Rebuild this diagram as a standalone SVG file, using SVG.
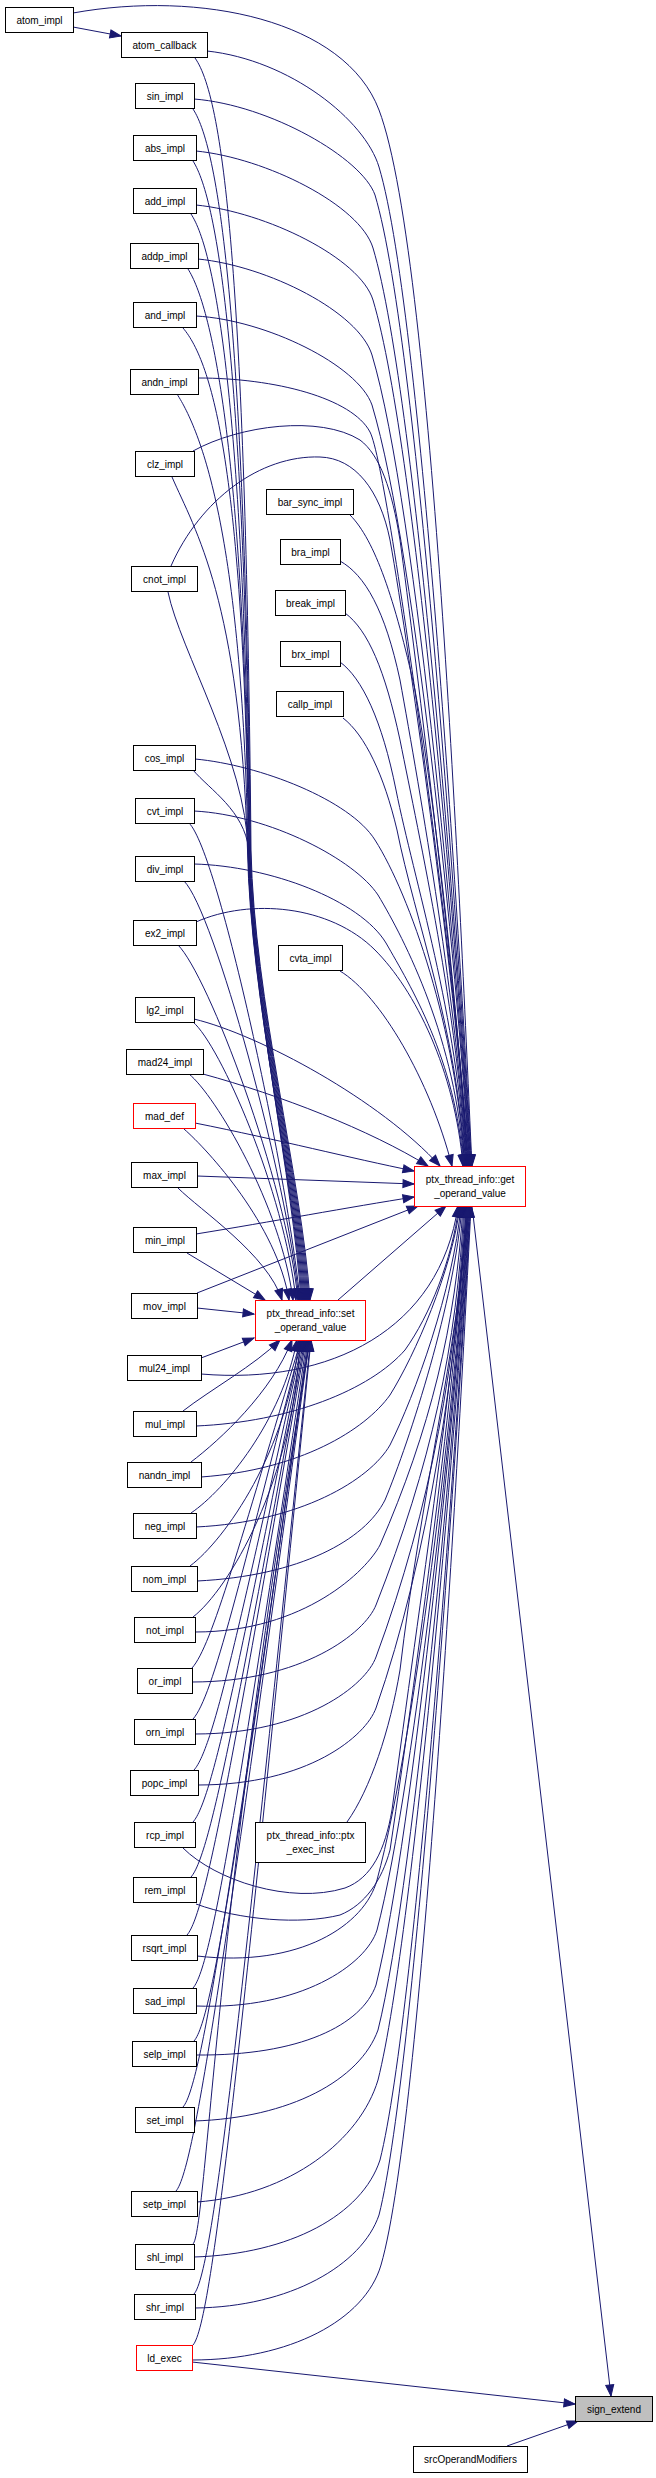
<svg xmlns="http://www.w3.org/2000/svg" width="656" height="2478" viewBox="0 0 656 2478">
<defs>
<marker id="a" markerUnits="userSpaceOnUse" markerWidth="11" markerHeight="8" refX="11" refY="4" orient="auto" overflow="visible">
<path d="M0,0 L11,4 L0,8 z" fill="#191970" stroke="#191970" stroke-width="1"/>
</marker>
<style>
.n rect{fill:#fff;stroke:#000;stroke-width:1}
.r rect{stroke:#ff0000}
.g rect{fill:#bfbfbf}
text{font-family:"Liberation Sans",Arial,sans-serif;font-size:10px;text-anchor:middle;fill:#000}
.e path{fill:none;stroke:#191970;stroke-width:1;marker-end:url(#a)}
</style>
</defs>
<rect width="656" height="2478" fill="#fff"/>
<g id="edges" class="e">
<path d="M73,27 L121,36"/>
<path d="M73,13 C200,-10 345,20 379,110 C436,260 464.5,1016 472,1166"/>
<path d="M207,51 C290,60 365,120 379,167 C424,317 464,1016 471.5,1166"/>
<path d="M194,99 C270,105 362,158 375,195 C420,345 463.5,1016 471,1166"/>
<path d="M196,151 C266,158 360,205 373,248 C418,398 463,1016 470.5,1166"/>
<path d="M196,205 C266,212 360,258 373,300 C418,450 462.5,1016 470,1166"/>
<path d="M198,259 C268,266 359,312 372,355 C417,505 462,1016 469.5,1166"/>
<path d="M196,316 C266,320 358,365 372,405 C417,555 461.5,1016 469,1166"/>
<path d="M198,378 C275,378 352,398 370,432 C390,470 461,1016 468.5,1166"/>
<path d="M193,451 C240,425 320,415 360,440 C380,455 392,490 400,540 C415,650 460,1016 468,1166"/>
<path d="M171,566 C200,500 260,455 320,457 C355,458 380,490 390,540 C410,650 460,1016 467.5,1166"/>
<path d="M350,515 C375,540 395,600 415,690 C435,800 459,1016 467,1166"/>
<path d="M340,561 C365,575 385,610 400,680 C420,790 459,1016 466.5,1166"/>
<path d="M345,613 C368,630 385,670 400,740 C420,840 458.5,1016 466,1166"/>
<path d="M340,662 C362,678 382,720 396,790 C414,880 458,1016 465.5,1166"/>
<path d="M343,718 C365,735 384,775 397,830 C415,920 457.5,1030 465,1166"/>
<path d="M195,759 C260,765 350,800 375,840 C410,895 457,1030 464.5,1166"/>
<path d="M194,811 C270,815 355,860 378,895 C405,940 456.5,1040 464,1166"/>
<path d="M194,864 C270,866 360,900 386,943 C410,985 456,1060 463.5,1166"/>
<path d="M196,922 C250,898 330,905 375,950 C415,990 455,1070 463,1166"/>
<path d="M340,971 C380,995 430,1080 452,1166"/>
<path d="M194,1019 C260,1035 380,1100 440,1166"/>
<path d="M203,1074 C280,1095 370,1130 428,1166"/>
<path d="M195,1123 C280,1140 350,1158 414,1171"/>
<path d="M197,1176 L414,1184"/>
<path d="M196,1234 C270,1222 350,1207 414,1197"/>
<path d="M197,1293 L418,1206"/>
<path d="M195,58 C225,100 246,295 251,850 C254,1000 302,1180 310,1300"/>
<path d="M193,109 C220,150 245,330 250.5,850 C253.5,1000 301,1180 309,1300"/>
<path d="M193,161 C218,200 245,370 250,850 C253,1000 300,1180 308,1300"/>
<path d="M191,214 C215,250 244,405 249.5,850 C252.5,1000 299,1180 307,1300"/>
<path d="M188,269 C211,305 244,445 249,850 C252,1000 298,1180 306,1300"/>
<path d="M183,328 C212,362 244,470 248.5,850 C251.5,1000 297,1180 305,1300"/>
<path d="M177,394 C200,430 242,530 248,850 C251,1000 296,1180 304,1300"/>
<path d="M172,477 C195,530 240,600 247.5,850 C250.5,1000 295,1180 303,1300"/>
<path d="M168,592 C180,650 246,760 248,850 C251,1000 294,1180 302,1300"/>
<path d="M193,770 C210,790 244,810 249,850 C252,1000 293,1180 301,1300"/>
<path d="M189,823 C219,853 288,1178 300,1300"/>
<path d="M184,881 C214,911 287,1178 299,1300"/>
<path d="M178,945 C208,975 286,1180 298,1300"/>
<path d="M193,1022 C220,1045 284,1190 296,1300"/>
<path d="M189,1074 C215,1095 281,1205 293,1300"/>
<path d="M184,1129 C208,1150 277,1225 289,1300"/>
<path d="M178,1188 C200,1210 268,1255 282,1300"/>
<path d="M187,1253 L265,1300"/>
<path d="M197,1308 L254,1314"/>
<path d="M201,1358 L254,1338"/>
<path d="M183,1411 C210,1390 255,1365 280,1340"/>
<path d="M191,1462 C220,1440 272,1392 292,1340"/>
<path d="M191,1513 C225,1490 282,1420 297,1340"/>
<path d="M190,1566 C225,1540 288,1450 299,1340"/>
<path d="M193,1617 C228,1590 294,1480 300,1340"/>
<path d="M192,1668 C212,1646 240,1542 301,1340"/>
<path d="M193,1719 C213,1697 241,1577 302,1340"/>
<path d="M194,1770 C214,1748 242,1613 303,1340"/>
<path d="M193,1822 C213,1800 242,1649 304,1340"/>
<path d="M191,1877 C211,1855 241,1688 305,1340"/>
<path d="M187,1935 C207,1913 238,1728 306,1340"/>
<path d="M193,1988 C213,1966 243,1766 307,1340"/>
<path d="M194,2041 C214,2019 244,1803 308,1340"/>
<path d="M183,2107 C203,2085 236,1849 309,1340"/>
<path d="M176,2191 C196,2169 231.5,1908 309.5,1340"/>
<path d="M193,2244 C206,2232 216,1900 310,1340"/>
<path d="M194,2294 C214,2272 244,1980 310.5,1340"/>
<path d="M193,2345 C213,2323 244,2015 311,1340"/>
<path d="M201,1374 C330,1385 440,1330 458,1206"/>
<path d="M196,1426 C290,1422 370,1390 405,1350 C430,1315 452,1260 459,1206"/>
<path d="M201,1477 C300,1470 365,1430 390,1395 C415,1355 452,1270 460,1206"/>
<path d="M196,1527 C300,1522 370,1480 390,1445 C415,1395 453,1290 461,1206"/>
<path d="M197,1581 C300,1576 365,1540 385,1500 C410,1440 455,1300 462,1206"/>
<path d="M195,1632 C305,1632 367,1570 380,1545 C430,1430 456,1325 463,1206"/>
<path d="M192,1682 C302,1682 365,1633 376,1605 C431,1465 457,1346 464,1206"/>
<path d="M195,1734 C305,1734 366,1685 376,1657 C431.5,1507 457.5,1356 465,1206"/>
<path d="M198,1785 C308,1785 366,1736 376,1708 C428.5,1558 458.5,1356 466,1206"/>
<path d="M183,1848 C215,1880 290,1905 345,1888 C372,1878 385,1850 392,1810 C420,1600 458,1350 466.5,1206"/>
<path d="M196,1904 C240,1920 300,1925 340,1915 C365,1905 382,1880 390,1850 C420,1650 459,1350 467,1206"/>
<path d="M197,1956 C300,1968 365,1925 377,1880 C417.5,1730 460,1356 467.5,1206"/>
<path d="M196,2006 C300,2010 366,1965 377,1930 C416,1780 460.5,1356 468,1206"/>
<path d="M196,2055 C300,2056 362,2025 376,1985 C413.5,1835 461,1356 468.5,1206"/>
<path d="M194,2121 C290,2118 360,2080 378,2030 C415.5,1880 461.5,1356 469,1206"/>
<path d="M197,2202 C290,2195 360,2140 378,2080 C415.5,1930 462,1356 469.5,1206"/>
<path d="M194,2257 C290,2254 362,2215 380,2160 C417.5,2010 462.5,1356 470,1206"/>
<path d="M195,2308 C290,2307 362,2265 379,2215 C417,2065 463,1356 470.5,1206"/>
<path d="M192,2360 C290,2360 365,2320 381,2265 C424.5,2115 463.5,1356 471,1206"/>
<path d="M347,1822 C370,1790 390,1730 400,1670 C420,1500 458,1350 468,1206"/>
<path d="M338,1300 L446,1206"/>
<path d="M472,1206 L611,2396"/>
<path d="M192,2362 L575,2404"/>
<path d="M507,2446 L578,2421"/>
</g>
<g id="node-atom_impl" class="n"><rect x="5.5" y="7.5" width="68" height="25"/><text x="39.5" y="23.5">atom_impl</text></g>
<g id="node-atom_callback" class="n"><rect x="121.5" y="32.5" width="86" height="25"/><text x="164.5" y="48.5">atom_callback</text></g>
<g id="node-sin_impl" class="n"><rect x="135.5" y="83.5" width="59" height="25"/><text x="165" y="99.5">sin_impl</text></g>
<g id="node-abs_impl" class="n"><rect x="133.5" y="135.5" width="63" height="25"/><text x="165" y="151.5">abs_impl</text></g>
<g id="node-add_impl" class="n"><rect x="133.5" y="188.5" width="63" height="25"/><text x="165" y="204.5">add_impl</text></g>
<g id="node-addp_impl" class="n"><rect x="130.5" y="243.5" width="68" height="25"/><text x="164.5" y="259.5">addp_impl</text></g>
<g id="node-and_impl" class="n"><rect x="133.5" y="302.5" width="63" height="25"/><text x="165" y="318.5">and_impl</text></g>
<g id="node-andn_impl" class="n"><rect x="130.5" y="369.5" width="68" height="25"/><text x="164.5" y="385.5">andn_impl</text></g>
<g id="node-clz_impl" class="n"><rect x="135.5" y="451.5" width="59" height="25"/><text x="165" y="467.5">clz_impl</text></g>
<g id="node-cnot_impl" class="n"><rect x="131.5" y="566.5" width="66" height="25"/><text x="164.5" y="582.5">cnot_impl</text></g>
<g id="node-cos_impl" class="n"><rect x="133.5" y="745.5" width="62" height="25"/><text x="164.5" y="761.5">cos_impl</text></g>
<g id="node-cvt_impl" class="n"><rect x="135.5" y="798.5" width="59" height="25"/><text x="165" y="814.5">cvt_impl</text></g>
<g id="node-div_impl" class="n"><rect x="135.5" y="856.5" width="59" height="25"/><text x="165" y="872.5">div_impl</text></g>
<g id="node-ex2_impl" class="n"><rect x="133.5" y="920.5" width="63" height="25"/><text x="165" y="936.5">ex2_impl</text></g>
<g id="node-lg2_impl" class="n"><rect x="135.5" y="997.5" width="59" height="25"/><text x="165" y="1013.5">lg2_impl</text></g>
<g id="node-mad24_impl" class="n"><rect x="126.5" y="1049.5" width="77" height="25"/><text x="165" y="1065.5">mad24_impl</text></g>
<g id="node-mad_def" class="n r"><rect x="133.5" y="1103.5" width="62" height="25"/><text x="164.5" y="1119.5">mad_def</text></g>
<g id="node-max_impl" class="n"><rect x="131.5" y="1162.5" width="66" height="25"/><text x="164.5" y="1178.5">max_impl</text></g>
<g id="node-min_impl" class="n"><rect x="133.5" y="1227.5" width="63" height="25"/><text x="165" y="1243.5">min_impl</text></g>
<g id="node-mov_impl" class="n"><rect x="131.5" y="1293.5" width="66" height="25"/><text x="164.5" y="1309.5">mov_impl</text></g>
<g id="node-mul24_impl" class="n"><rect x="127.5" y="1355.5" width="74" height="25"/><text x="164.5" y="1371.5">mul24_impl</text></g>
<g id="node-mul_impl" class="n"><rect x="133.5" y="1411.5" width="63" height="25"/><text x="165" y="1427.5">mul_impl</text></g>
<g id="node-nandn_impl" class="n"><rect x="127.5" y="1462.5" width="74" height="25"/><text x="164.5" y="1478.5">nandn_impl</text></g>
<g id="node-neg_impl" class="n"><rect x="133.5" y="1513.5" width="63" height="25"/><text x="165" y="1529.5">neg_impl</text></g>
<g id="node-nom_impl" class="n"><rect x="131.5" y="1566.5" width="66" height="25"/><text x="164.5" y="1582.5">nom_impl</text></g>
<g id="node-not_impl" class="n"><rect x="134.5" y="1617.5" width="61" height="25"/><text x="165" y="1633.5">not_impl</text></g>
<g id="node-or_impl" class="n"><rect x="137.5" y="1668.5" width="55" height="25"/><text x="165" y="1684.5">or_impl</text></g>
<g id="node-orn_impl" class="n"><rect x="134.5" y="1719.5" width="61" height="25"/><text x="165" y="1735.5">orn_impl</text></g>
<g id="node-popc_impl" class="n"><rect x="130.5" y="1770.5" width="68" height="25"/><text x="164.5" y="1786.5">popc_impl</text></g>
<g id="node-rcp_impl" class="n"><rect x="134.5" y="1822.5" width="61" height="25"/><text x="165" y="1838.5">rcp_impl</text></g>
<g id="node-rem_impl" class="n"><rect x="133.5" y="1877.5" width="63" height="25"/><text x="165" y="1893.5">rem_impl</text></g>
<g id="node-rsqrt_impl" class="n"><rect x="131.5" y="1935.5" width="66" height="25"/><text x="164.5" y="1951.5">rsqrt_impl</text></g>
<g id="node-sad_impl" class="n"><rect x="133.5" y="1988.5" width="63" height="25"/><text x="165" y="2004.5">sad_impl</text></g>
<g id="node-selp_impl" class="n"><rect x="132.5" y="2041.5" width="64" height="25"/><text x="164.5" y="2057.5">selp_impl</text></g>
<g id="node-set_impl" class="n"><rect x="135.5" y="2107.5" width="59" height="25"/><text x="165" y="2123.5">set_impl</text></g>
<g id="node-setp_impl" class="n"><rect x="131.5" y="2191.5" width="66" height="25"/><text x="164.5" y="2207.5">setp_impl</text></g>
<g id="node-shl_impl" class="n"><rect x="135.5" y="2244.5" width="59" height="25"/><text x="165" y="2260.5">shl_impl</text></g>
<g id="node-shr_impl" class="n"><rect x="134.5" y="2294.5" width="61" height="25"/><text x="165" y="2310.5">shr_impl</text></g>
<g id="node-ld_exec" class="n r"><rect x="136.5" y="2345.5" width="56" height="25"/><text x="164.5" y="2361.5">ld_exec</text></g>
<g id="node-bar_sync_impl" class="n"><rect x="266.5" y="489.5" width="87" height="25"/><text x="310" y="505.5">bar_sync_impl</text></g>
<g id="node-bra_impl" class="n"><rect x="280.5" y="539.5" width="60" height="25"/><text x="310.5" y="555.5">bra_impl</text></g>
<g id="node-break_impl" class="n"><rect x="275.5" y="590.5" width="70" height="25"/><text x="310.5" y="606.5">break_impl</text></g>
<g id="node-brx_impl" class="n"><rect x="280.5" y="641.5" width="60" height="25"/><text x="310.5" y="657.5">brx_impl</text></g>
<g id="node-callp_impl" class="n"><rect x="276.5" y="691.5" width="67" height="25"/><text x="310" y="707.5">callp_impl</text></g>
<g id="node-cvta_impl" class="n"><rect x="278.5" y="945.5" width="64" height="25"/><text x="310.5" y="961.5">cvta_impl</text></g>
<g id="node-get_operand_value" class="n r"><rect x="414.5" y="1166.5" width="111" height="40"/><text x="470" y="1183">ptx_thread_info::get</text><text x="470" y="1197">_operand_value</text></g>
<g id="node-set_operand_value" class="n r"><rect x="255.5" y="1300.5" width="110" height="40"/><text x="310.5" y="1317">ptx_thread_info::set</text><text x="310.5" y="1331">_operand_value</text></g>
<g id="node-ptx_exec_inst" class="n"><rect x="255.5" y="1822.5" width="110" height="40"/><text x="310.5" y="1839">ptx_thread_info::ptx</text><text x="310.5" y="1853">_exec_inst</text></g>
<g id="node-sign_extend" class="n g"><rect x="575.5" y="2396.5" width="77" height="25"/><text x="614" y="2412.5">sign_extend</text></g>
<g id="node-srcOperandModifiers" class="n"><rect x="413.5" y="2446.5" width="114" height="26"/><text x="470.5" y="2463">srcOperandModifiers</text></g>
</svg>
